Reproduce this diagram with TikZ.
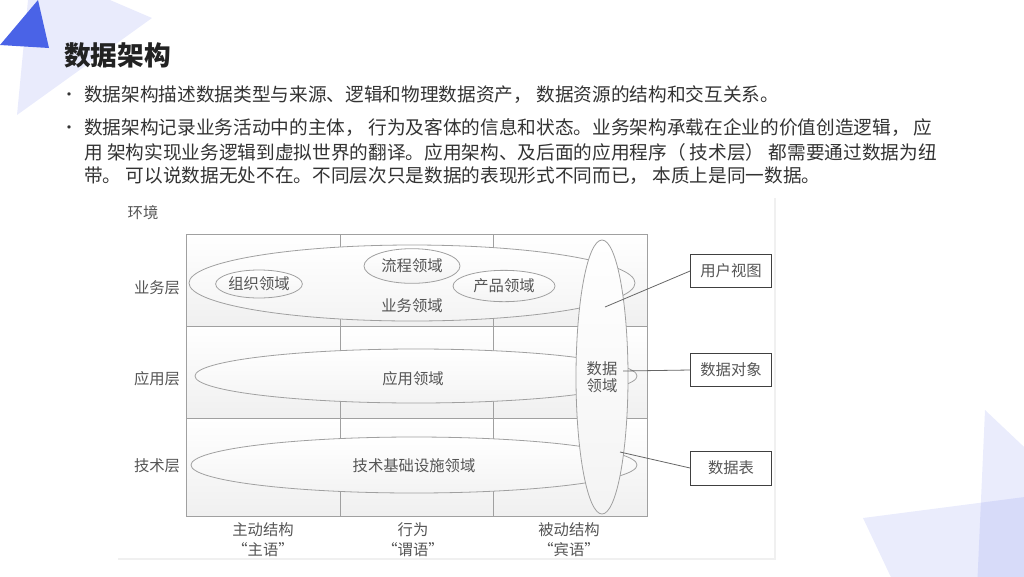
\documentclass[tikz,border=0pt]{standalone}
\usepackage{fontspec}
\setmainfont{Noto Sans CJK SC}
\usetikzlibrary{shapes.geometric}
\definecolor{ttl}{HTML}{222222}
\definecolor{bodyc}{HTML}{333333}
\definecolor{dtext}{HTML}{555555}
\definecolor{dline}{HTML}{A0A0A0}
\definecolor{blueT}{HTML}{4A63E7}
\definecolor{lav}{HTML}{E9EBFC}
\definecolor{tri}{HTML}{5060E6}
\begin{document}
\begin{tikzpicture}[x=0.75pt,y=-0.75pt,
  bodytext/.style={anchor=west,inner sep=0pt,text=bodyc,font=\fontsize{14}{16}\selectfont},
  bul/.style={inner sep=0pt,text=bodyc,font=\fontsize{12}{13}\selectfont},
  dlab/.style={inner sep=0pt,text=dtext,font=\fontsize{11.5}{13}\selectfont},
  dom/.style={ellipse,draw=dline,line width=0.6pt,inner sep=0pt,top color=white,bottom color=gray!9,text=dtext,font=\fontsize{11.5}{13}\selectfont},
  sbox/.style={draw=black!75,line width=0.6pt,fill=white,inner sep=0pt,minimum width=60.75pt,minimum height=24.75pt,text=dtext,font=\fontsize{11.5}{13}\selectfont},
  conn/.style={draw=black!60,line width=0.6pt},
  gridl/.style={draw=dline,line width=0.6pt}]
\useasboundingbox (0,0) rectangle (1024,576);
% decorations
\fill[lav] (28,0) -- (110,0) -- (152,18) -- (17,115) -- cycle;
\fill[blueT] (0,45) -- (38,0) -- (49,48) -- cycle;
\fill[tri,fill opacity=0.12] (985,410) -- (1040,462) -- (1040,590) -- (977,590) -- cycle;
\fill[tri,fill opacity=0.12] (863,518) -- (1040,495) -- (1040,590) -- (897,590) -- cycle;
% title and text
\node[anchor=west,inner sep=0pt,text=ttl,font=\fontsize{20}{24}\selectfont\bfseries] (title) at (64,55) {数据架构};
\node[bul] (b1) at (69,97) {•};
\node[bodytext] (l1) at (84,95) {数据架构描述数据类型与来源、逻辑和物理数据资产， 数据资源的结构和交互关系。};
\node[bul] (b2) at (69,130) {•};
\node[bodytext] (l2) at (84,128) {数据架构记录业务活动中的主体， 行为及客体的信息和状态。业务架构承载在企业的价值创造逻辑， 应};
\node[bodytext] (l3) at (84,152) {用 架构实现业务逻辑到虚拟世界的翻译。应用架构、及后面的应用程序（ 技术层） 都需要通过数据为纽};
\node[bodytext] (l4) at (84,176) {带。 可以说数据无处不在。不同层次只是数据的表现形式不同而已， 本质上是同一数据。};
% diagram frame
\draw[gray!12,line width=1.5pt] (775,198) -- (775,560);
\draw[gray!12,line width=1.5pt] (118,559) -- (776,559);
% grid
\shade[top color=white,bottom color=gray!12] (186,234) rectangle (647,326);
\shade[top color=white,bottom color=gray!12] (186,326) rectangle (647,418);
\shade[top color=white,bottom color=gray!12] (186,418) rectangle (647,516);
\draw[gridl] (186,234) rectangle (647,516);
\draw[gridl] (340,234) -- (340,516);
\draw[gridl] (493,234) -- (493,516);
\draw[gridl] (186,326) -- (647,326);
\draw[gridl] (186,418) -- (647,418);
% labels
\node[dlab] (env) at (143,213) {环境};
\node[dlab] (biz) at (157,288) {业务层};
\node[dlab] (app) at (157,379) {应用层};
\node[dlab] (tech) at (157,466) {技术层};
\node[dlab,align=center] (col1) at (263,540) {主动结构\\[2pt]“主语”};
\node[dlab,align=center] (col2) at (413,540) {行为\\[2pt]“谓语”};
\node[dlab,align=center] (col3) at (569,540) {被动结构\\[2pt]“宾语”};
% domains
\node[dom,minimum width=334.5pt,minimum height=57pt] (bizE) at (412,283) {};
\node[dlab] (bizT) at (412,306) {业务领域};
\node[dom,minimum width=61.5pt,minimum height=21pt] (orgE) at (259,284) {组织领域};
\node[dom,minimum width=72pt,minimum height=26pt] (procE) at (412,266) {流程领域};
\node[dom,minimum width=76.5pt,minimum height=23.5pt] (prodE) at (504,286) {产品领域};
\node[dom,minimum width=331.5pt,minimum height=40.5pt] (appE) at (416,376) {};
\node[dlab] (appT) at (413,379) {应用领域};
\node[dom,minimum width=334.5pt,minimum height=42pt] (techE) at (414,465) {};
\node[dlab] (techT) at (414,466) {技术基础设施领域};
\node[dom,minimum width=39pt,minimum height=205.5pt,align=center] (dataE) at (602,377) {数据\\领域};
% side boxes
\node[sbox] (user) at (731,271) {用户视图};
\node[sbox] (dobj) at (731,370) {数据对象};
\node[sbox,minimum height=25.5pt] (tbl) at (731,468) {数据表};
\coordinate (c1) at (605,307);
\coordinate (c2) at (623,371);
\coordinate (c3) at (620,452);
\draw[conn] (user.west) -- (c1);
\draw[conn] (dobj.west) -- (c2);
\draw[conn] (tbl.west) -- (c3);
\end{tikzpicture}
\end{document}
